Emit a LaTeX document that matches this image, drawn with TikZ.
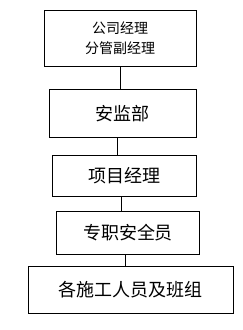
\documentclass[tikz,border=0pt]{standalone}
\usepackage{fontspec}
\newfontfamily\cjk{Noto Sans CJK SC}
\usepackage{xcolor}
\usepackage{tikz}
\usetikzlibrary{positioning}

\tikzset{
  box/.style={draw, line width=0.8pt, align=center, inner sep=0pt,
    font=\cjk\fontsize{18pt}{22pt}\selectfont}
}

\begin{document}
\begin{tikzpicture}[x=1pt, y=-1pt, line width=0.8pt]
  \useasboundingbox (0,0) rectangle (243,330);

  \node[box, minimum width=151.7pt, minimum height=56.7pt,
    font=\cjk\fontsize{14pt}{20pt}\selectfont] (gm) at (120.2,38.3) {公司经理\\分管副经理};
  \node[box, minimum width=147.7pt, minimum height=48pt] (ajb) at (122.8,113.3) {安监部};
  \node[box, minimum width=143.7pt, minimum height=41.7pt] (xmjl) at (124.2,175.8) {项目经理};
  \node[box, minimum width=142.6pt, minimum height=42.3pt] (zzaq) at (128,232.8) {专职安全员};
  \node[box, minimum width=205pt, minimum height=46.6pt] (sgry) at (130.8,290) {各施工人员及班组};

  \draw (gm.south) -- (gm.south |- ajb.north);
  \draw ([xshift=-5.5pt]ajb.south) -- ([xshift=-5.5pt]ajb.south |- xmjl.north);
  \draw ([xshift=-3.2pt]xmjl.south) -- ([xshift=-3.2pt]xmjl.south |- zzaq.north);
  \draw ([xshift=-3pt]zzaq.south) -- ([xshift=-3pt]zzaq.south |- sgry.north);
\end{tikzpicture}
\end{document}
